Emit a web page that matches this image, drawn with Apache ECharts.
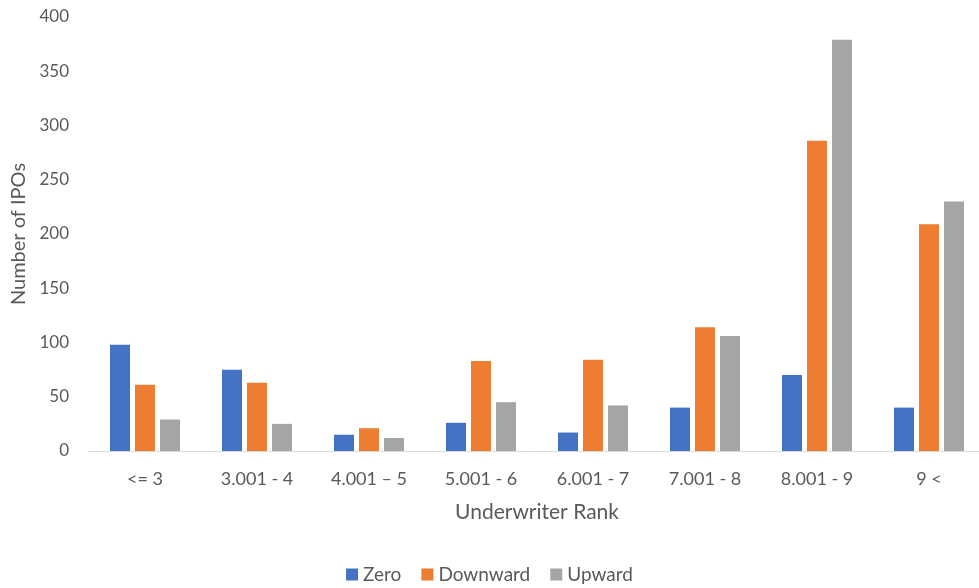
<!DOCTYPE html>
<html>
<head>
<meta charset="utf-8">
<script src="https://cdn.jsdelivr.net/npm/echarts@6/dist/echarts.min.js"></script>
<style>
  html, body { margin: 0; padding: 0; background: #fff; }
  #chart { width: 979px; height: 588px; }
</style>
</head>
<body>
<div id="chart"></div>
<script>
// 承销商排名分组
const categories = ['<= 3', '3.001 - 4', '4.001 \u2013 5', '5.001 - 6', '6.001 - 7', '7.001 - 8', '8.001 - 9', '9 <'];
const zeroVals = [98, 75, 15, 26, 17, 40, 70, 40];
const downwardVals = [61, 63, 21, 83, 84, 114, 286, 209];
const upwardVals = [29, 25, 12, 45, 42, 106, 379, 230];
const yTicks = [0, 50, 100, 150, 200, 250, 300, 350, 400];

const textColor = '#595959';
const fontFamily = 'Lato, "Open Sans", sans-serif';

const chart = echarts.init(document.getElementById('chart'));

chart.setOption({
  animation: false,
  textStyle: { fontFamily: fontFamily, color: textColor },
  // 图表区略超出右边缘，与原图一致
  grid: { left: 89, width: 896, top: 17, bottom: 137, outerBoundsMode: 'none' },
  legend: {
    top: 560,
    left: 'center',
    itemWidth: 12,
    itemHeight: 12,
    itemGap: 20,
    icon: 'rect',
    textStyle: { fontSize: 19, color: textColor, fontFamily: fontFamily },
    data: ['Zero', 'Downward', 'Upward']
  },
  xAxis: {
    type: 'category',
    data: categories,
    name: 'Underwriter Rank',
    nameLocation: 'middle',
    nameGap: 51,
    nameTextStyle: { fontSize: 21, color: textColor },
    axisLine: { lineStyle: { color: '#D9D9D9', width: 1 } },
    axisTick: { show: false },
    axisLabel: { fontSize: 18, color: textColor, margin: 19 }
  },
  yAxis: {
    type: 'value',
    min: yTicks[0],
    max: yTicks[yTicks.length - 1],
    interval: 50,
    name: 'Number of IPOs',
    nameLocation: 'middle',
    nameGap: 60,
    nameTextStyle: { fontSize: 20, color: textColor },
    splitLine: { show: false },
    axisLine: { show: false },
    axisTick: { show: false },
    axisLabel: { fontSize: 17, color: textColor, margin: 20 }
  },
  series: [
    { name: 'Zero', type: 'bar', data: zeroVals, barWidth: 20, barGap: '25%', itemStyle: { color: '#4472C4' } },
    { name: 'Downward', type: 'bar', data: downwardVals, barWidth: 20, barGap: '25%', itemStyle: { color: '#ED7D31' } },
    { name: 'Upward', type: 'bar', data: upwardVals, barWidth: 20, barGap: '25%', itemStyle: { color: '#A5A5A5' } }
  ]
});
</script>
</body>
</html>
